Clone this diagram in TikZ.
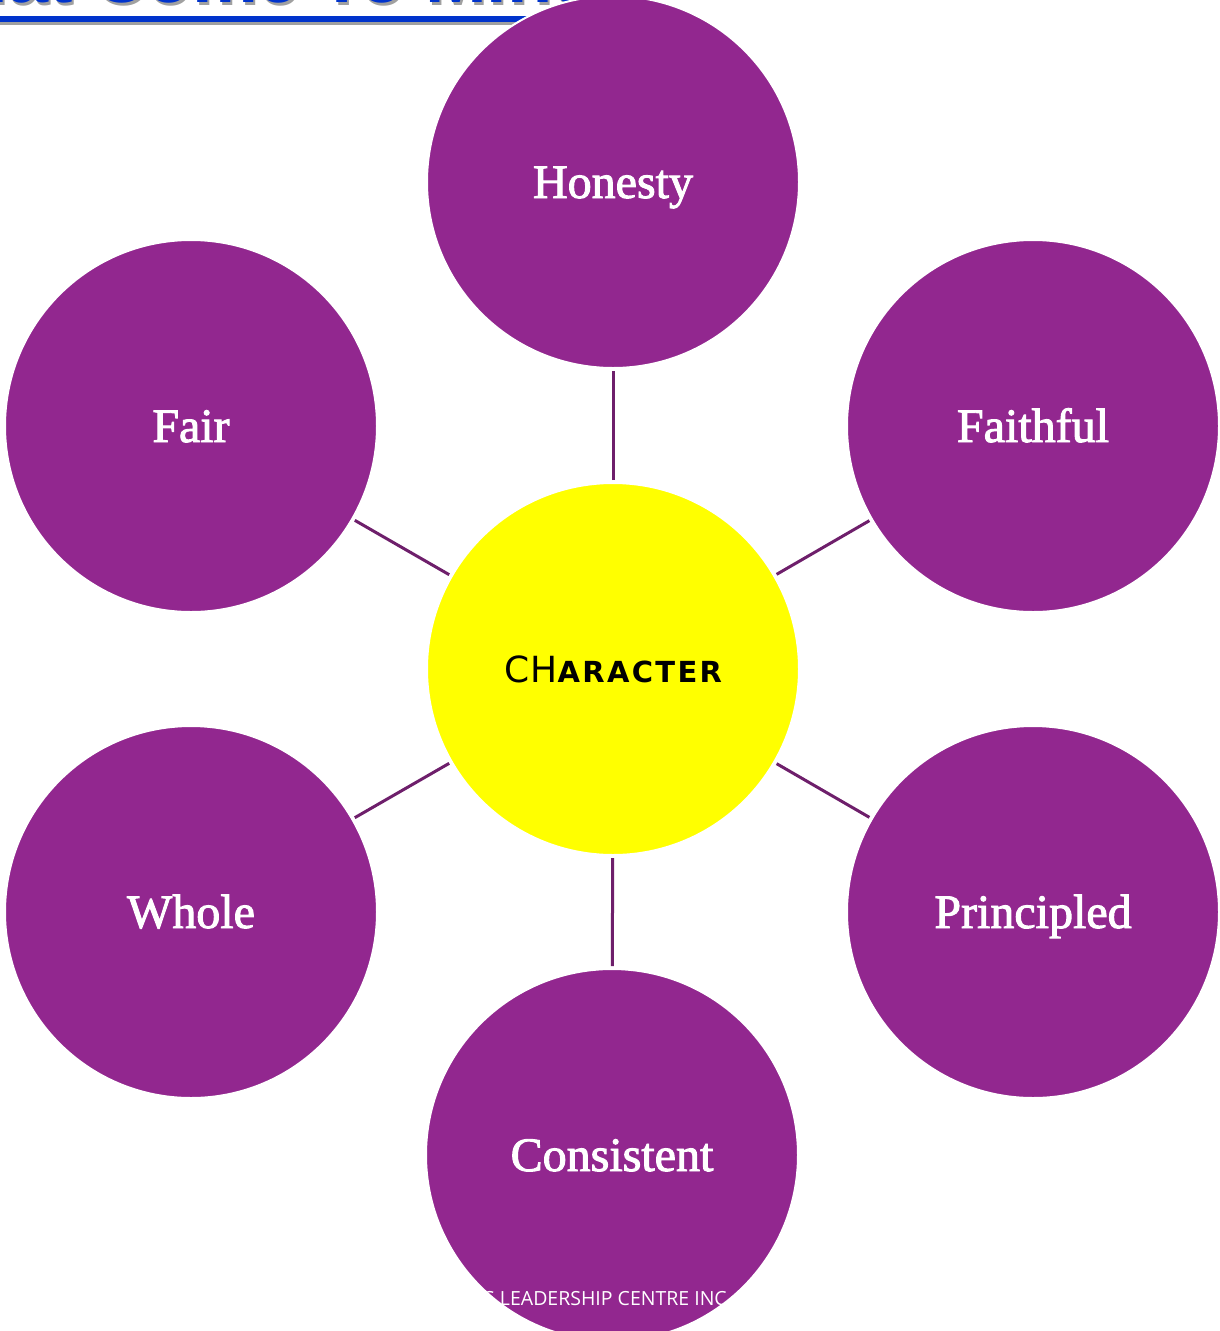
\documentclass[tikz,border=0pt]{standalone}
\usepackage{fontspec}
\setmainfont{Liberation Serif}
\newfontfamily\leaffont{Liberation Serif}[FakeBold=2]
\newfontfamily\hubfont{DejaVu Sans}
\newfontfamily\titlefont{Liberation Sans}
\newfontfamily\footfont{Open Sans}
\definecolor{leafpurple}{HTML}{92278F}
\definecolor{linkpurple}{HTML}{6E1F6B}
\definecolor{titleblue}{HTML}{0033CC}
\definecolor{hubyellow}{HTML}{FFFF00}
\definecolor{shadowgray}{HTML}{A0A0A0}
\begin{document}
\begin{tikzpicture}[x=1pt,y=-1pt,
  leaf/.style={circle, fill=leafpurple, draw=white, line width=2pt, minimum size=372pt, inner sep=0pt, text=white, font=\leaffont\fontsize{48}{50}\selectfont, text height=32pt, text depth=0pt},
  hub/.style={circle, fill=hubyellow, draw=white, line width=2pt, minimum size=372pt, inner sep=0pt, text=black, font=\hubfont, text height=26pt, text depth=0pt},
  link/.style={draw=linkpurple, line width=3pt, shorten <=2pt, shorten >=2pt},
  titletext/.style={anchor=base west, inner sep=0pt, font=\titlefont\bfseries\fontsize{74}{80}\selectfont}]
\useasboundingbox (0,0) rectangle (1220,1331);
\clip (0,0) rectangle (1220,1331);
% partly visible title
\node[titletext, text=shadowgray] (titleshadow) at (-106,5) {What Come To Mind};
\node[titletext, text=titleblue] (title) at (-108,2) {What Come To Mind};
\fill[shadowgray] (-5,19) rectangle (620,25);
\fill[titleblue] (-5,16) rectangle (617,22);
% circles
\node[hub] (hub) at (613,669) {{\fontsize{36}{40}\selectfont\addfontfeature{LetterSpace=4}CH}{\bfseries\fontsize{29}{30}\selectfont\addfontfeature{LetterSpace=8}ARACTER}};
\node[leaf] (honesty) at (613,182) {Honesty};
\node[leaf] (faithful) at (1033,426) {Faithful};
\node[leaf] (principled) at (1033,912) {Principled};
\node[leaf] (consistent) at (612,1155) {Consistent};
\node[leaf] (whole) at (191,912) {Whole};
\node[leaf] (fair) at (191,426) {Fair};
% connectors
\draw[link] (hub) -- (honesty);
\draw[link] (hub) -- (faithful);
\draw[link] (hub) -- (principled);
\draw[link] (hub) -- (consistent);
\draw[link] (hub) -- (whole);
\draw[link] (hub) -- (fair);
% footer
\node[anchor=base west, inner sep=0pt, text=white, font=\footfont\fontsize{19.5}{23}\selectfont] (footer) at (484,1305) {S LEADERSHIP CENTRE INC};
\end{tikzpicture}
\end{document}
